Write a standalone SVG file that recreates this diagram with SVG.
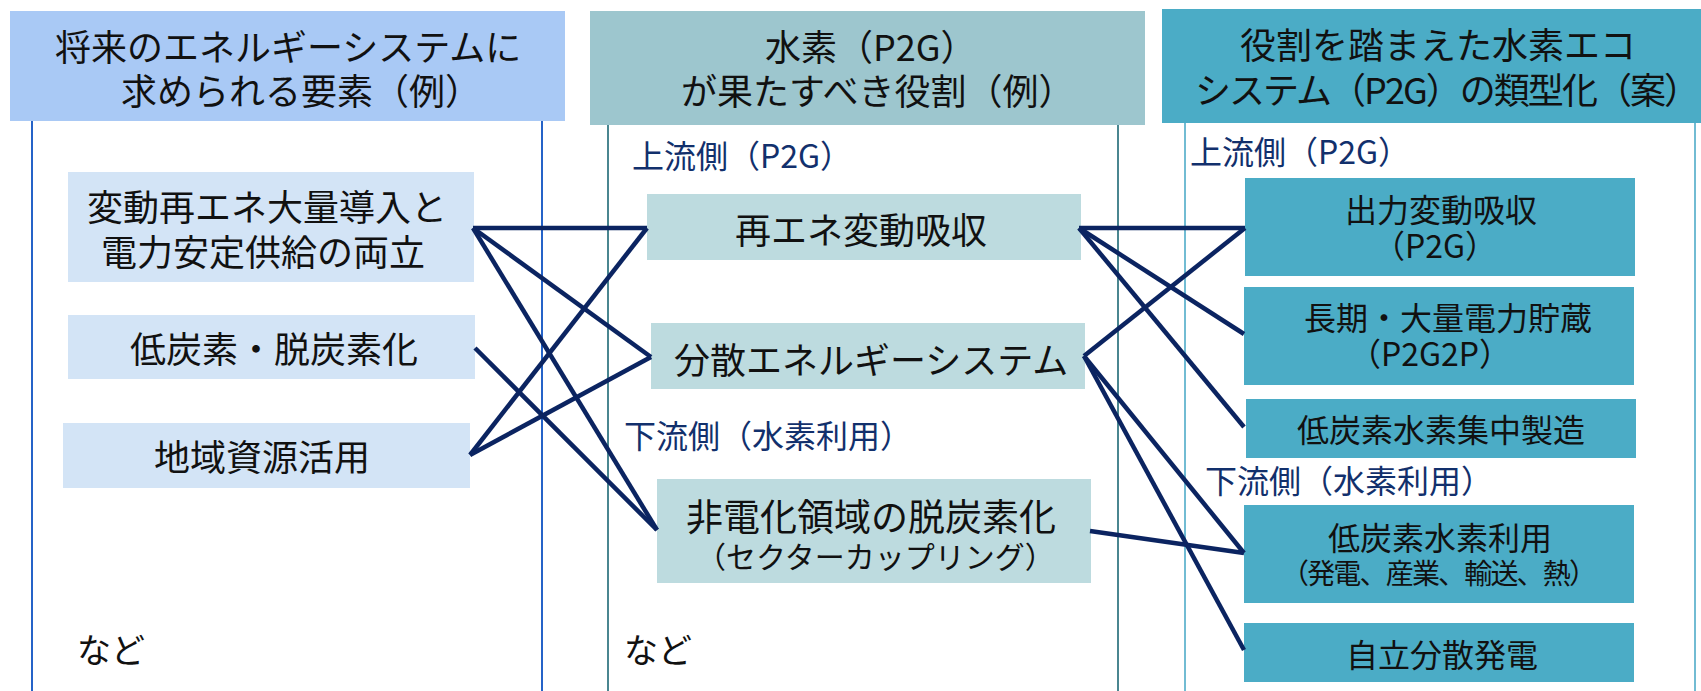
<svg xmlns="http://www.w3.org/2000/svg" width="1701" height="691" viewBox="0 0 1701 691">
<style>
text{font-family:"Noto Sans CJK JP","Noto Sans CJK SC",sans-serif;fill:#111}
.h{font-size:36px}
.n{font-size:36px}
.s{font-size:32px}
.lab{font-size:32px;fill:#12306c}
.etc{font-size:34px}
.c1{fill:#d3e4f6}
.c2{fill:#bddbdf}
.c3{fill:#4bacc6}
.v1{stroke:#2563c8;stroke-width:2}
.v2{stroke:#4a8690;stroke-width:2}
.v3{stroke:#72bcd3;stroke-width:2}
#connectors line{stroke:#0b2461;stroke-width:4.5;fill:none}
</style>
<rect width="1701" height="691" fill="#fff"/>
<g id="columns">
<line class="v1" x1="32" y1="121" x2="32" y2="691"/>
<line class="v1" x1="542" y1="121" x2="542" y2="691"/>
<line class="v2" x1="608" y1="125" x2="608" y2="691"/>
<line class="v2" x1="1118" y1="125" x2="1118" y2="691"/>
<line class="v3" x1="1185" y1="123" x2="1185" y2="691"/>
<line class="v3" x1="1695" y1="123" x2="1695" y2="691"/>
</g>
<g id="header1">
<rect x="10" y="11" width="555" height="110" fill="#a9c9f5"/>
<text class="h" x="55" y="61">将来のエネルギーシステムに</text>
<text class="h" x="121" y="105">求められる要素（例）</text>
</g>
<g id="header2">
<rect x="590" y="11" width="555" height="114" fill="#9dc6ce"/>
<text class="h" x="765" y="61">水素（P2G）</text>
<text class="h" x="681" y="105">が果たすべき役割（例）</text>
</g>
<g id="header3">
<rect x="1162" y="9" width="539" height="114" fill="#4bacc6"/>
<text class="h" x="1240" y="59">役割を踏まえた水素エコ</text>
<text class="h" x="1195" y="104" textLength="505" lengthAdjust="spacing">システム（P2G）の類型化（案）</text>
</g>
<g id="labels">
<text class="lab" x="632" y="168">上流側（P2G）</text>
<text class="lab" x="624" y="448">下流側（水素利用）</text>
<text class="lab" x="1190" y="164">上流側（P2G）</text>
<text class="lab" x="1205" y="493">下流側（水素利用）</text>
<text class="etc" x="77" y="663">など</text>
<text class="etc" x="624" y="663">など</text>
</g>
<g id="n1">
<rect class="c1" x="68" y="172" width="406" height="110"/>
<text class="n" x="87" y="221">変動再エネ大量導入と</text>
<text class="n" x="101" y="266">電力安定供給の両立</text>
</g>
<g id="n2">
<rect class="c1" x="68" y="315" width="407" height="64"/>
<text class="n" x="130" y="363">低炭素・脱炭素化</text>
</g>
<g id="n3">
<rect class="c1" x="63" y="423" width="407" height="65"/>
<text class="n" x="154" y="471">地域資源活用</text>
</g>
<g id="n4">
<rect class="c2" x="647" y="194" width="434" height="66"/>
<text class="n" x="735" y="244">再エネ変動吸収</text>
</g>
<g id="n5">
<rect class="c2" x="651" y="323" width="434" height="66"/>
<text class="n" x="674" y="374">分散エネルギーシステム</text>
</g>
<g id="n6">
<rect class="c2" x="657" y="479" width="434" height="104"/>
<text class="n" x="686" y="531" style="font-size:37px">非電化領域の脱炭素化</text>
<text x="696" y="568" style="font-size:30px">（セクターカップリング）</text>
</g>
<g id="n7">
<rect class="c3" x="1245" y="178" width="390" height="98"/>
<text class="s" x="1345" y="222">出力変動吸収</text>
<text class="s" x="1373" y="258">（P2G）</text>
</g>
<g id="n8">
<rect class="c3" x="1244" y="287" width="390" height="98"/>
<text class="s" x="1304" y="330">長期・大量電力貯蔵</text>
<text class="s" x="1349" y="366">（P2G2P）</text>
</g>
<g id="n9">
<rect class="c3" x="1246" y="399" width="390" height="59"/>
<text class="s" x="1297" y="442">低炭素水素集中製造</text>
</g>
<g id="n10">
<rect class="c3" x="1244" y="505" width="390" height="98"/>
<text class="s" x="1328" y="550">低炭素水素利用</text>
<text x="1281" y="584" style="font-size:28px" textLength="316" lengthAdjust="spacing">（発電、産業、輸送、熱）</text>
</g>
<g id="n11">
<rect class="c3" x="1244" y="623" width="390" height="59"/>
<text class="s" x="1346" y="667">自立分散発電</text>
</g>
<g id="connectors">
<line x1="473" y1="228" x2="647" y2="228"/>
<line x1="473" y1="228" x2="651" y2="357"/>
<line x1="473" y1="228" x2="657" y2="530"/>
<line x1="475" y1="348" x2="657" y2="530"/>
<line x1="470" y1="455" x2="647" y2="228"/>
<line x1="470" y1="455" x2="651" y2="357"/>
<line x1="1079" y1="228" x2="1245" y2="228"/>
<line x1="1079" y1="228" x2="1244" y2="334"/>
<line x1="1079" y1="228" x2="1244" y2="427"/>
<line x1="1084" y1="356" x2="1245" y2="228"/>
<line x1="1084" y1="356" x2="1244" y2="553"/>
<line x1="1084" y1="356" x2="1244" y2="650"/>
<line x1="1090" y1="531" x2="1244" y2="553"/>
</g>
</svg>
